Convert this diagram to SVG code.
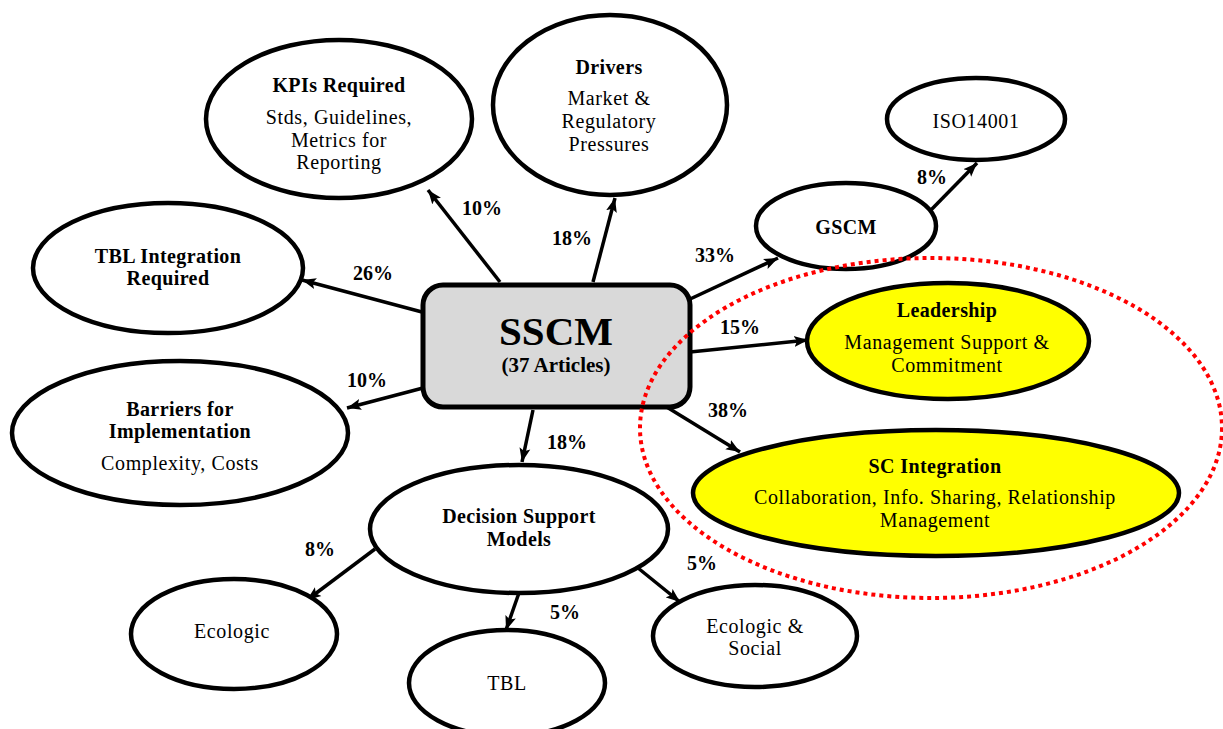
<svg xmlns="http://www.w3.org/2000/svg" width="1223" height="729" viewBox="0 0 1223 729">
  <defs>
    <style>
      .node { fill: #ffffff; stroke: #000000; stroke-width: 4.5; }
      .hl { fill: #ffff00; stroke: #000000; stroke-width: 4.5; }
      .hub { fill: #d9d9d9; stroke: #000000; stroke-width: 5; }
      .edge { stroke: #000000; stroke-width: 3.5; fill: none; marker-end: url(#arrow); }
      text { font-family: "Liberation Serif", "Times New Roman", serif; fill: #000000; text-anchor: middle; }
      .b { font-weight: bold; font-size: 20px; letter-spacing: 0.4px; }
      .r { font-size: 20px; letter-spacing: 0.6px; }
      .pct { font-weight: bold; font-size: 20px; }
      .group { fill: none; stroke: #ff0000; stroke-width: 4; stroke-dasharray: 4 4; }
    </style>
    <marker id="arrow" markerUnits="userSpaceOnUse" markerWidth="15" markerHeight="12" refX="14" refY="6" orient="auto">
      <path d="M0,0.5 L14,6 L0,11.5 L3,6 z" fill="#000000"/>
    </marker>
  </defs>

  <rect width="1223" height="729" fill="#ffffff"/>

  <!-- arrows from the hub and from Decision Support Models / GSCM -->
  <g id="connectors">
    <path class="edge" d="M500,282 L428,190"/>
    <path class="edge" d="M593,282 L615,198"/>
    <path class="edge" d="M422,312 L302,280"/>
    <path class="edge" d="M423,388 L347,408"/>
    <path class="edge" d="M533,410 L522,462"/>
    <path class="edge" d="M688,300 L778,258"/>
    <path class="edge" d="M690,352 L808,340"/>
    <path class="edge" d="M665,406 L740,452"/>
    <path class="edge" d="M930,211 L977,163"/>
    <path class="edge" d="M375,549 L307,600"/>
    <path class="edge" d="M520,590 L506,630"/>
    <path class="edge" d="M638,568 L680,602"/>

    <text class="pct" x="482" y="215">10%</text>
    <text class="pct" x="572" y="245">18%</text>
    <text class="pct" x="373" y="280">26%</text>
    <text class="pct" x="367" y="387">10%</text>
    <text class="pct" x="567" y="449">18%</text>
    <text class="pct" x="715" y="262">33%</text>
    <text class="pct" x="740" y="334">15%</text>
    <text class="pct" x="728" y="417">38%</text>
    <text class="pct" x="932" y="184">8%</text>
    <text class="pct" x="320" y="556">8%</text>
    <text class="pct" x="565" y="619">5%</text>
    <text class="pct" x="702" y="570">5%</text>
  </g>

  <g id="kpis">
    <ellipse class="node" cx="339" cy="119" rx="133" ry="79"/>
    <text class="b" x="339" y="92">KPIs Required</text>
    <text class="r" x="339" y="124">Stds, Guidelines,</text>
    <text class="r" x="339" y="147">Metrics for</text>
    <text class="r" x="339" y="169">Reporting</text>
  </g>

  <g id="drivers">
    <ellipse class="node" cx="610" cy="105" rx="117" ry="90"/>
    <text class="b" x="609" y="74">Drivers</text>
    <text class="r" x="609" y="105">Market &amp;</text>
    <text class="r" x="609" y="128">Regulatory</text>
    <text class="r" x="609" y="151">Pressures</text>
  </g>

  <g id="gscm">
    <ellipse class="node" cx="846" cy="226" rx="90" ry="43"/>
    <text class="b" x="846" y="234">GSCM</text>
  </g>

  <g id="iso14001">
    <ellipse class="node" cx="976" cy="119" rx="89" ry="41"/>
    <text class="r" x="976" y="128">ISO14001</text>
  </g>

  <g id="tbl-integration">
    <ellipse class="node" cx="168" cy="268" rx="135" ry="65"/>
    <text class="b" x="168" y="263">TBL Integration</text>
    <text class="b" x="168" y="285">Required</text>
  </g>

  <g id="barriers">
    <ellipse class="node" cx="180" cy="433" rx="168" ry="72"/>
    <text class="b" x="180" y="416">Barriers for</text>
    <text class="b" x="180" y="438">Implementation</text>
    <text class="r" x="180" y="470">Complexity, Costs</text>
  </g>

  <g id="sscm">
    <rect class="hub" x="423" y="285" width="267" height="122" rx="20" ry="20"/>
    <text x="556" y="345" font-weight="bold" font-size="41">SSCM</text>
    <text x="556" y="372" font-weight="bold" font-size="21">(37 Articles)</text>
  </g>

  <g id="leadership">
    <ellipse class="hl" cx="948" cy="341" rx="141" ry="58"/>
    <text class="b" x="947" y="317">Leadership</text>
    <text class="r" x="947" y="349">Management Support &amp;</text>
    <text class="r" x="947" y="372">Commitment</text>
  </g>

  <g id="sc-integration">
    <ellipse class="hl" cx="936" cy="493" rx="243" ry="63"/>
    <text class="b" x="935" y="473">SC Integration</text>
    <text class="r" x="935" y="504">Collaboration, Info. Sharing, Relationship</text>
    <text class="r" x="935" y="527">Management</text>
  </g>

  <g id="decision-support">
    <ellipse class="node" cx="519" cy="529" rx="149" ry="64"/>
    <text class="b" x="519" y="523">Decision Support</text>
    <text class="b" x="519" y="546">Models</text>
  </g>

  <g id="ecologic">
    <ellipse class="node" cx="234" cy="634" rx="103" ry="55"/>
    <text class="r" x="232" y="638">Ecologic</text>
  </g>

  <g id="tbl">
    <ellipse class="node" cx="507" cy="683" rx="98" ry="53"/>
    <text class="r" x="507" y="690">TBL</text>
  </g>

  <g id="ecologic-social">
    <ellipse class="node" cx="755" cy="636" rx="102" ry="51"/>
    <text class="r" x="755" y="633">Ecologic &amp;</text>
    <text class="r" x="755" y="655">Social</text>
  </g>

  <!-- dotted red outline grouping Leadership and SC Integration -->
  <g id="focus-group">
    <ellipse class="group" cx="931" cy="428" rx="291" ry="170"/>
  </g>
</svg>
